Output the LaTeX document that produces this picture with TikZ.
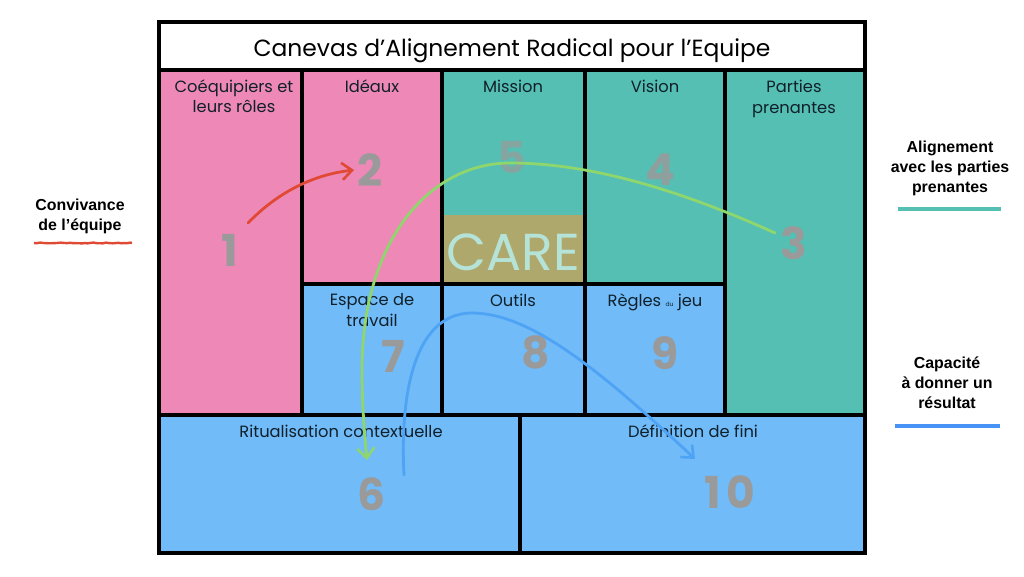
\documentclass[tikz,border=0pt]{standalone}
\usepackage{fontspec}
\usetikzlibrary{arrows.meta,calc,shadows,decorations.pathmorphing}
\setmainfont{Poppins}
\newfontfamily\sidefont{Liberation Sans}
\newcommand{\px}[2][0]{\fontsize{#2}{\ifdim #1pt=0pt #2\else #1\fi}\selectfont}
\definecolor{cpink}{HTML}{EE88B6}
\definecolor{cteal}{HTML}{55BFB3}
\definecolor{cblue}{HTML}{70BBF8}
\definecolor{cgold}{HTML}{AEA86C}
\definecolor{ccare}{HTML}{B5E3D8}
\definecolor{cgreen}{HTML}{8FD66C}
\definecolor{cred}{HTML}{E04A35}
\definecolor{carrow}{HTML}{4FA3F5}
\definecolor{cnum}{HTML}{9A9A9A}
\definecolor{ctext}{HTML}{10202A}
\tikzset{
  cell/.style={draw=black,line width=3.3pt,anchor=north west,inner sep=0pt,outer sep=0pt},
  lab/.style={font=\px[20.5]{16.3},text=ctext,align=center,inner sep=0pt},
  num/.style={font=\px{44}\bfseries,text=cnum,inner sep=0pt},
  side/.style={font=\sidefont\bfseries\px[20]{15.9},align=center,inner sep=0pt,text=black},
  curve/.style={line width=2.8pt,line cap=round,-{Straight Barb[length=10pt,width=17pt,line width=2.6pt]}},
  sideline/.style={line width=4pt}
}
\begin{document}
\begin{tikzpicture}[x=1pt,y=-1pt]
\useasboundingbox (0,0) rectangle (1024,576);
\fill[white] (0,0) rectangle (1024,576);
% frame and cells
\node[cell,fill=white,minimum width=706pt,minimum height=531pt,drop shadow={shadow xshift=0pt,shadow yshift=-2pt,opacity=.25}] (frame) at (159,22) {};
\node[cell,minimum width=706pt,minimum height=48pt] (titlebox) at (159,22) {};
\node[cell,fill=cpink,minimum width=143pt,minimum height=345pt] (coeq) at (159,70) {};
\node[cell,fill=cpink,minimum width=140pt,minimum height=214pt] (ideaux) at (302,70) {};
\node[cell,fill=cteal,minimum width=143pt,minimum height=214pt] (mission) at (442,70) {};
\node[cell,fill=cteal,minimum width=140pt,minimum height=214pt] (vision) at (585,70) {};
\node[cell,fill=cteal,minimum width=140pt,minimum height=345pt] (parties) at (725,70) {};
\node[cell,fill=cblue,minimum width=140pt,minimum height=131pt] (espace) at (302,284) {};
\node[cell,fill=cblue,minimum width=143pt,minimum height=131pt] (outils) at (442,284) {};
\node[cell,fill=cblue,minimum width=140pt,minimum height=131pt] (regles) at (585,284) {};
\node[cell,fill=cblue,minimum width=361pt,minimum height=138pt] (ritual) at (159,415) {};
\node[cell,fill=cblue,minimum width=345pt,minimum height=138pt] (defin) at (520,415) {};
\node[fill=cgold,anchor=north west,inner sep=0pt,minimum width=139pt,minimum height=67pt] (care) at (444,215) {};
\node[font=\px{52},text=ccare,inner sep=0pt] (caretext) at (513,252) {CARE};
% title and labels
\node[font=\px{23.4},text=black,inner sep=0pt] (title) at (512,50.5) {Canevas d’Alignement Radical pour l’Equipe};
\node[lab] (lcoeq) at (234,96) {Coéquipiers et\\leurs rôles};
\node[lab] (lideaux) at (372,86) {Idéaux};
\node[lab] (lmission) at (513,86) {Mission};
\node[lab] (lvision) at (655,86) {Vision};
\node[lab] (lparties) at (794,99) {Parties\\prenantes};
\node[lab] (lespace) at (372,310) {Espace de\\travail};
\node[lab] (loutils) at (513,300) {Outils};
\node[lab] (lregles) at (655,302) {Règles {\px{6}du} jeu};
\node[lab] (lritual) at (341,431) {Ritualisation contextuelle};
\node[lab] (ldefin) at (693,431) {Définition de fini};
% numbers
\node[num] (n1) at (230,250) {1};
\node[num] (n2) at (370,170) {2};
\node[num] (n3) at (794,243) {3};
\node[num,opacity=.85] (n4) at (660,170) {4};
\node[num,opacity=.7] (n5) at (512,157) {5};
\node[num] (n6) at (372,494) {6};
\node[num] (n7) at (393,356) {7};
\node[num] (n8) at (536,352) {8};
\node[num] (n9) at (665,353) {9};
\node[num] (n10) at (730,492) {1\kern6pt 0};
% connector ends
\coordinate (r0) at ($(n1)+(18,-27)$);
\coordinate (r1) at ($(n2)+(-16,0)$);
\coordinate (g0) at ($(n3)+(-19,-10)$);
\coordinate (g1) at ($(n6)+(-5,-34)$);
\coordinate (b0) at ($(n6)+(32,-19)$);
\coordinate (b1) at ($(n10)+(-35,-33)$);
% connectors
\draw[curve,color=cred] (r0) .. controls (275,195) and (310,175) .. (r1);
\draw[curve,color=cgreen] (g0) .. controls (680,190) and (590,163) .. (510,163) .. controls (430,163) and (362,240) .. (362,370) .. controls (362,400) and (364,430) .. (g1);
\draw[curve,color=carrow] (b0) .. controls (400,400) and (412,313) .. (472,313) .. controls (530,313) and (600,370) .. (b1);
% side legends
\node[side] (s1) at (80,216) {Convivance\\de l’équipe};
\coordinate (s1a) at (34,243);
\coordinate (s1b) at (132,243);
\draw[cred,line width=2.4pt,decorate,decoration={random steps,segment length=3pt,amplitude=.4pt}] (s1a) -- (s1b);
\node[side] (s2) at (950,168) {Alignement\\avec les parties\\prenantes};
\coordinate (s2a) at (898,209);
\coordinate (s2b) at (1001,209);
\draw[cteal,sideline] (s2a) -- (s2b);
\node[side] (s3) at (947,383) {Capacité\\à donner un\\résultat};
\coordinate (s3a) at (895,426);
\coordinate (s3b) at (1000,426);
\draw[color=carrow!90!blue,sideline] (s3a) -- (s3b);
\end{tikzpicture}
\end{document}
